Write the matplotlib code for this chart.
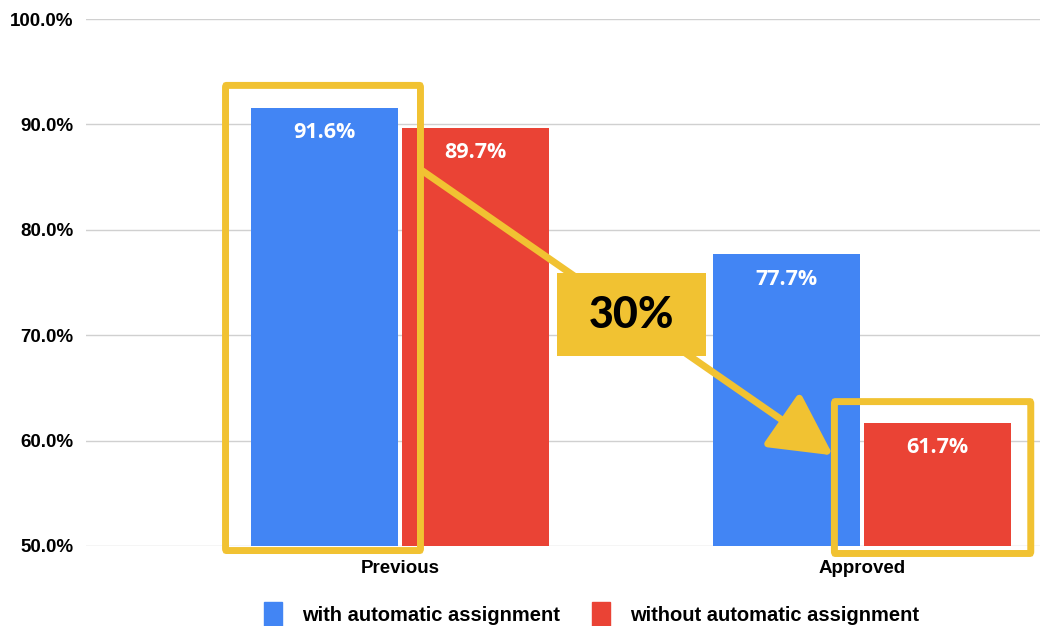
import numpy as np
import matplotlib.pyplot as plt
from matplotlib.patches import FancyBboxPatch, FancyArrowPatch, Patch

# data
categories = ["Previous", "Approved"]
with_auto = [91.6, 77.7]
without_auto = [89.7, 61.7]
series_names = ["with automatic assignment", "without automatic assignment"]
yticks = [50, 60, 70, 80, 90, 100]

blue = "#4285F4"
red = "#EA4335"
yellow = "#F1C232"

fig = plt.figure(figsize=(10.47, 6.26), dpi=100)
ax = fig.add_axes([86 / 1047, 1 - 546 / 626, 954 / 1047, 527 / 626])

x = np.arange(len(categories))
w = 0.318
off = 0.163
b1 = ax.bar(x - off, with_auto, w, color=blue, zorder=2)
b2 = ax.bar(x + off, without_auto, w, color=red, zorder=2)

for bars, vals in [(b1, with_auto), (b2, without_auto)]:
    for r, v in zip(bars, vals):
        ax.text(r.get_x() + r.get_width() / 2, v - 2.4, f"{v:.1f}%",
                ha="center", va="center", color="white", fontsize=15.5,
                fontweight="bold", family="Open Sans", zorder=3)

ax.set_ylim(50, 100)
ax.set_xlim(-0.68, 1.385)
ax.set_yticks(yticks)
ax.set_yticklabels([f"{t:.1f}%" for t in yticks], fontsize=13.5,
                   fontweight="bold", family="Liberation Sans")
ax.set_xticks(x)
ax.set_xticklabels(categories, fontsize=13.5, fontweight="bold",
                   family="Liberation Sans")
ax.tick_params(length=0, axis="y", pad=9)
ax.tick_params(length=0, axis="x", pad=10)
ax.grid(axis="y", color="#d0d0d0", lw=1, zorder=0)
for s in ax.spines.values():
    s.set_visible(False)

# highlight boxes
def box(x0, x1, y0, y1):
    p = FancyBboxPatch((x0, y0), x1 - x0, y1 - y0,
                       boxstyle="round,pad=0,rounding_size=0.002",
                       fc="none", ec=yellow, lw=5, zorder=5, clip_on=False,
                       mutation_aspect=100)
    ax.add_patch(p)

box(-0.378, 0.044, 49.57, 93.7)
box(0.940, 1.365, 49.29, 63.7)

# arrow
arr = FancyArrowPatch((0.048, 85.6), (0.937, 58.6),
                      arrowstyle="-|>,head_length=38,head_width=20",
                      mutation_scale=1, color=yellow, lw=5,
                      shrinkA=0, shrinkB=0, zorder=6, clip_on=False)
ax.add_patch(arr)

# label box
lab = FancyBboxPatch((0.340, 68.0), 0.322, 7.9, boxstyle="square,pad=0",
                     fc=yellow, ec="none", zorder=7)
ax.add_patch(lab)
ax.text(0.501, 71.95, "30%", ha="center", va="center", fontsize=31,
        fontweight="black", family="Lato", color="black", zorder=8)

handles = [Patch(color=blue), Patch(color=red)]
fig.legend(handles, series_names, loc="lower center",
           bbox_to_anchor=(0.565, -0.03), ncol=2, frameon=False,
           prop=dict(family="Liberation Sans", weight="bold", size=14.5),
           handlelength=0.9, handleheight=1.5, columnspacing=1.6,
           handletextpad=1.0)

fig.savefig("out.png", dpi=100)
